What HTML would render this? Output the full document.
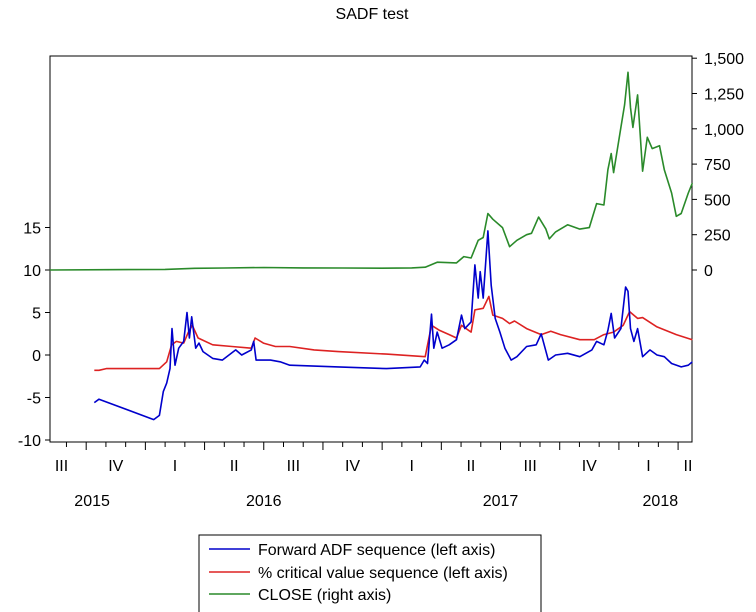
<!DOCTYPE html>
<html><head><meta charset="utf-8"><style>
body{margin:0;background:#fff;}
svg{display:block;font-family:"Liberation Sans",Arial,sans-serif;}
</style></head><body>
<svg id="chart" width="756" height="612">
<rect width="756" height="612" fill="#fff"/>
<text x="372" y="19" font-size="16" text-anchor="middle" fill="#000">SADF test</text>
<rect x="50" y="56" width="642" height="386" fill="none" stroke="#000" stroke-width="1"/>
<g id="axes"></g>
<g id="series"></g>
<g>
<rect x="199" y="535" width="342" height="90" fill="#fff" stroke="#000"/>
<line x1="209" y1="549" x2="250" y2="549" stroke="#0000cc" stroke-width="1.5"/>
<text x="258" y="555" font-size="16">Forward ADF sequence (left axis)</text>
<line x1="209" y1="572" x2="250" y2="572" stroke="#dd2222" stroke-width="1.5"/>
<text x="258" y="578" font-size="16">% critical value sequence (left axis)</text>
<line x1="209" y1="594" x2="250" y2="594" stroke="#2a8a2a" stroke-width="1.5"/>
<text x="258" y="600" font-size="16">CLOSE (right axis)</text>
</g>
</svg>
<script>
// time = months since Jul 1 2015
const leftTicks=[15,10,5,0,-5,-10];
const rightTicks=[1500,1250,1000,750,500,250,0];
const rightLabels=["1,500","1,250","1,000","750","500","250","0"];
const quarterLabels=["III","IV","I","II","III","IV","I","II","III","IV","I","II"];
const quarterLabelT=[1.75,4.5,7.5,10.5,13.5,16.5,19.5,22.5,25.5,28.5,31.5,33.5];
const yearLabels=["2015","2016","2017","2018"];
const yearLabelT=[3.3,12.0,24.0,32.1];
const adfT=[3.41,3.65,6.42,6.71,6.91,7.08,7.25,7.35,7.50,7.69,7.94,8.11,8.23,8.35,8.55,8.72,8.92,9.41,9.90,10.58,10.88,11.37,11.49,11.61,12.34,12.83,13.32,15.77,18.22,19.93,20.13,20.30,20.50,20.62,20.79,21.04,21.40,21.77,22.02,22.19,22.51,22.70,22.87,22.97,23.12,23.36,23.53,23.73,23.97,24.22,24.54,24.83,25.32,25.81,26.06,26.42,26.79,27.40,28.02,28.63,28.87,29.24,29.44,29.61,29.78,30.10,30.34,30.46,30.59,30.76,30.95,31.20,31.57,31.93,32.30,32.67,33.16,33.52,33.72];
const adfV=[-5.6,-5.2,-7.6,-7.1,-4.3,-3.3,-1.6,3.1,-1.2,0.8,1.6,5.0,2.0,4.5,0.8,1.4,0.4,-0.4,-0.6,0.6,0,0.6,1.6,-0.6,-0.6,-0.8,-1.2,-1.4,-1.6,-1.4,-0.6,-1.0,4.8,0.8,2.7,0.8,1.2,1.8,4.7,3.1,3.9,10.6,6.7,9.8,6.7,14.6,8.2,4.3,2.7,0.8,-0.6,-0.2,1.0,1.2,2.5,-0.6,0,0.2,-0.2,0.6,1.6,1.2,2.9,4.9,2.0,3.1,8.0,7.5,3.1,1.6,3.1,-0.2,0.6,0,-0.2,-1.0,-1.4,-1.2,-0.8];
const critT=[3.41,3.65,4.02,6.71,7.08,7.33,7.57,7.94,8.18,8.38,8.67,9.41,10.39,11.37,11.56,11.98,12.59,13.32,14.55,15.77,18.22,20.18,20.50,20.91,21.40,21.77,22.02,22.51,22.70,23.12,23.41,23.61,24.10,24.46,24.71,25.32,26.06,26.55,27.04,28.02,28.75,29.24,29.73,30.22,30.54,30.95,31.20,31.93,32.91,33.72];
const critV=[-1.8,-1.8,-1.6,-1.6,-0.8,1.2,1.6,1.4,2.7,3.5,2.0,1.2,1.0,0.8,2.0,1.4,1.0,1.0,0.6,0.4,0.1,-0.2,3.5,2.9,2.4,2.0,3.5,2.7,5.3,5.5,6.9,4.7,4.3,3.7,4.0,3.1,2.4,2.8,2.4,1.8,1.8,2.4,2.7,3.5,5.1,4.3,4.4,3.3,2.4,1.8];
const closeT=[1.15,4,7,8.5,10,12,14,16,18,19.5,20.18,20.79,21.77,22.14,22.51,22.87,23.12,23.36,23.61,24.10,24.46,24.83,25.32,25.57,25.93,26.30,26.47,26.79,27.40,28.02,28.50,28.87,29.24,29.44,29.61,29.73,30.10,30.29,30.46,30.59,30.71,30.95,31.20,31.44,31.69,32.06,32.30,32.67,32.91,33.16,33.52,33.72];
const closeV=[0,2,4,12,14,18,15,14,13,15,20,55,50,95,85,210,230,400,360,300,165,210,250,260,375,290,220,270,320,290,300,470,460,710,825,690,1010,1170,1400,1150,1010,1240,700,940,860,880,710,545,380,400,545,615];

const NS="http://www.w3.org/2000/svg";
const X0=50,X1=692,YT=56,YB=442;
const xS=t=>27+t*19.73;
const yL=v=>355-v*8.5;
const yR=v=>270-v*0.1412;
const ax=document.getElementById('axes'), sg=document.getElementById('series');
function mk(tag,attrs,parent){const e=document.createElementNS(NS,tag);for(const k in attrs)e.setAttribute(k,attrs[k]);parent.appendChild(e);return e;}
leftTicks.forEach(v=>{
  const l=mk('line',{x1:X0-5,x2:X0,y1:yL(v),y2:yL(v),stroke:'#000'},ax);
  
  
  const t=mk('text',{x:X0-9,y:yL(v)+6,'font-size':16,'text-anchor':'end'},ax);t.textContent=v;
  
  
});
rightTicks.forEach((v,i)=>{
  const l=mk('line',{x1:X1,x2:X1+5,y1:yR(v),y2:yR(v),stroke:'#000'},ax);
  
  
  const t=mk('text',{x:X1+12,y:yR(v)+6,'font-size':16},ax);t.textContent=rightLabels[i];
  
  
});
for(let m=2;m<=34;m++){const x=xS(m);if(x<X0||x>X1)continue;
  const q=(m%3===0);
  const l=mk('line',{x1:x,x2:x,y1:YB,y2:YB+(q?8:5),stroke:'#000'},ax);
  
  
}
quarterLabels.forEach((s,i)=>{const t=mk('text',{x:xS(quarterLabelT[i]),y:471,'font-size':16,'text-anchor':'middle'},ax);t.textContent=s;
  
  });
yearLabels.forEach((s,i)=>{const t=mk('text',{x:xS(yearLabelT[i]),y:506,'font-size':16,'text-anchor':'middle'},ax);t.textContent=s;
  
  });
function line(T,V,yf,col,name){
  const d=T.map((t,i)=>(i?'L':'M')+xS(t).toFixed(1)+' '+yf(V[i]).toFixed(1)).join(' ');
  const p=mk('path',{d:d,fill:'none',stroke:col,'stroke-width':1.6,'stroke-linejoin':'round'},sg);
  
  
}
line(closeT,closeV,yR,'#2a8a2a','close-line');
line(critT,critV,yL,'#dd2222','critical-value-line');
line(adfT,adfV,yL,'#0000cc','forward-adf-line');
</script>
</body></html>
